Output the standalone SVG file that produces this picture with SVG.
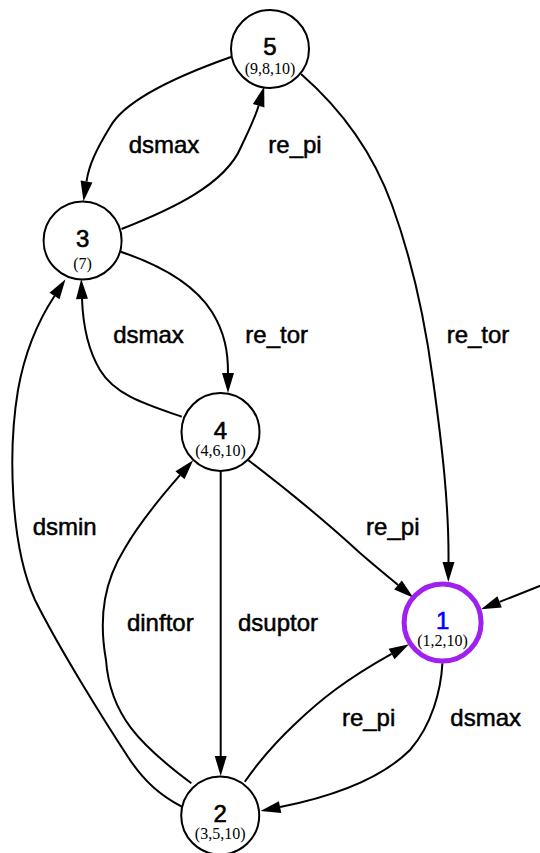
<svg xmlns="http://www.w3.org/2000/svg" width="540" height="853" viewBox="0 0 540 853">
<style>
.node circle{fill:#ffffff;stroke:#000000;stroke-width:2}
.num{font-family:"Liberation Sans",Arial,sans-serif;font-size:24px;text-anchor:middle;fill:#000000;stroke:#000000;stroke-width:0.6}
.sub{font-family:"Liberation Serif","Times New Roman",serif;font-size:16px;text-anchor:middle;fill:#000000}
.edge{fill:none;stroke:#000000;stroke-width:2;marker-end:url(#arr)}
.lbl{font-family:"Liberation Sans",Arial,sans-serif;font-size:24px;text-anchor:middle;fill:#000000;stroke:#000000;stroke-width:0.5}
</style>
<defs>
<marker id="arr" markerUnits="userSpaceOnUse" markerWidth="22" markerHeight="14" refX="0" refY="0" viewBox="0 -7 22 14" orient="auto" overflow="visible">
<path d="M0,-6 L20,0 L0,6 Z" fill="#000000"/>
</marker>
</defs>
<rect width="540" height="853" fill="#ffffff"/>
<g id="edges">
<path class="edge" d="M231,57 C180,75 125,100 110,127 C96,150 89,165 86.5,181.5"/>
<path class="edge" d="M121.5,229 C170,210 225,185 241,147 C249,130 255,118 258.6,105.7"/>
<path class="edge" d="M301,74 C340,108 372,150 392,205 C412,260 425,320 433,380 C442,445 449,505 448.5,562"/>
<path class="edge" d="M120.7,251.7 C160,265 195,285 212,312 C225,333 228,352 228,373"/>
<path class="edge" d="M181.7,416.7 C145,404 115,395 100,370 C88,350 83,325 82,299"/>
<path class="edge" d="M181.7,806.7 C160,795 145,782 130,760 C105,722 60,650 35,600 C10,545 8,450 18,390 C26,345 42,315 54.5,296"/>
<path class="edge" d="M191.4,783.3 C140,745 110,715 106,660 C98,615 105,580 125,548 C140,522 160,498 180,475.2"/>
<path class="edge" d="M220.7,471 L220.7,756"/>
<path class="edge" d="M248,460 C290,492 335,530 360,553 C375,566 386,575 398,585"/>
<path class="edge" d="M244.8,781.7 C262,757 278,740 295,724 C320,700 345,680 391.6,653.9"/>
<path class="edge" d="M442.4,663.3 C441,690 432,725 410,750 C385,775 340,795 280.1,807.1"/>
<path class="edge" d="M541,585.5 L499.6,601.9"/>
<text class="lbl" x="164" y="153">dsmax</text>
<text class="lbl" x="295" y="153">re_pi</text>
<text class="lbl" x="478" y="343">re_tor</text>
<text class="lbl" x="148.5" y="343">dsmax</text>
<text class="lbl" x="276.7" y="343">re_tor</text>
<text class="lbl" x="64.7" y="535">dsmin</text>
<text class="lbl" x="392.8" y="535">re_pi</text>
<text class="lbl" x="160.3" y="631">dinftor</text>
<text class="lbl" x="278" y="631">dsuptor</text>
<text class="lbl" x="368.6" y="726">re_pi</text>
<text class="lbl" x="485.7" y="726">dsmax</text>
</g>
<g id="node5" class="node">
<circle cx="270" cy="49" r="39"/>
<text class="num" x="270" y="55">5</text>
<text class="sub" x="270" y="74">(9,8,10)</text>
</g>
<g id="node3" class="node">
<circle cx="82.6" cy="240.5" r="39"/>
<text class="num" x="82.6" y="247">3</text>
<text class="sub" x="82.6" y="269">(7)</text>
</g>
<g id="node4" class="node">
<circle cx="220.5" cy="432" r="39"/>
<text class="num" x="220.5" y="438.5">4</text>
<text class="sub" x="220.5" y="456">(4,6,10)</text>
</g>
<g id="node1" class="node">
<circle cx="442.6" cy="622.5" r="38.5" style="stroke:#a020f0;stroke-width:5"/>
<text class="num" x="442.6" y="628.5" style="fill:#0000ff;stroke:#0000ff">1</text>
<text class="sub" x="442.6" y="646">(1,2,10)</text>
</g>
<g id="node2" class="node">
<circle cx="220.2" cy="815.5" r="39"/>
<text class="num" x="220.2" y="821.5">2</text>
<text class="sub" x="220.2" y="839">(3,5,10)</text>
</g>
</svg>
